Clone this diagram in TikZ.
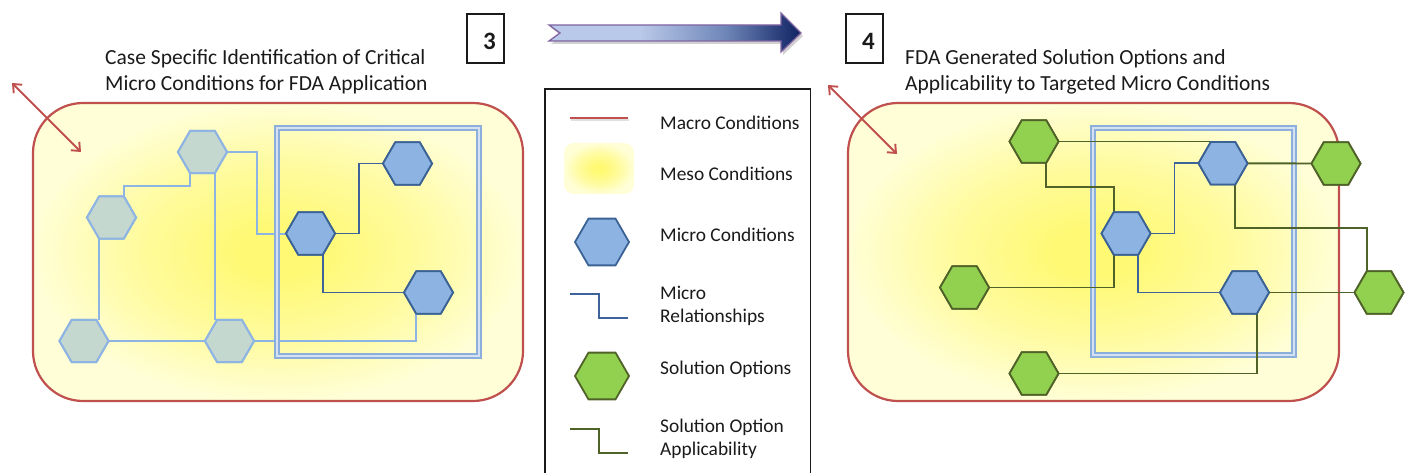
\documentclass[tikz,border=0pt]{standalone}
\usepackage{fontspec}
\setmainfont{Carlito}
\usetikzlibrary{arrows.meta,shapes.geometric,calc}

\definecolor{macroRed}{HTML}{C0504D}
\definecolor{mesoC}{HTML}{FFF974}
\definecolor{mesoM}{HTML}{FFFB9C}
\definecolor{mesoE}{HTML}{FFFED6}
\definecolor{microFill}{HTML}{8DB3E2}
\definecolor{microDraw}{HTML}{3B6294}
\definecolor{relColor}{HTML}{3D639A}
\definecolor{fadeFill}{HTML}{C4D8CF}
\definecolor{fadeDraw}{HTML}{8DB4E2}
\definecolor{solFill}{HTML}{92D050}
\definecolor{solDraw}{HTML}{4F6228}
\definecolor{frameBlue}{HTML}{8BAEDB}
\definecolor{frameLight}{HTML}{D3E1F3}
\definecolor{arrL}{HTML}{B9C9E9}
\definecolor{arrM}{HTML}{6F86B8}
\definecolor{arrD}{HTML}{0E2262}
\definecolor{arrEdge}{HTML}{8064A2}
\definecolor{inkColor}{HTML}{1A1A1A}

\pgfdeclarehorizontalshading{arrowshade}{100bp}{color(0bp)=(arrL); color(25bp)=(arrL); color(43bp)=(arrL); color(60bp)=(arrM); color(75bp)=(arrD); color(100bp)=(arrD)}
\pgfdeclareradialshading{mesoshade}{\pgfpoint{0bp}{0bp}}{color(0bp)=(mesoC); color(4bp)=(mesoC); color(14bp)=(mesoM); color(25bp)=(mesoE); color(50bp)=(mesoE)}

\tikzset{
  hexbase/.style={regular polygon, regular polygon sides=6, minimum size=49pt, inner sep=0pt, outer sep=0pt, line width=1.8pt},
  hexMicro/.style={hexbase, fill=microFill, draw=microDraw},
  hexFaded/.style={hexbase, fill=fadeFill, draw=fadeDraw, line width=2pt},
  hexSol/.style={hexbase, fill=solFill, draw=solDraw},
  macroBox/.style={draw=macroRed, line width=2.2pt, rounded corners=50pt, shading=mesoshade},
  focusFrame/.style={draw=frameBlue, line width=2pt, double=frameLight, double distance=1.4pt},
  relWire/.style={draw=relColor, line width=1.7pt},
  fadedWire/.style={draw=fadeDraw, line width=2pt},
  solWire/.style={draw=solDraw, line width=1.9pt},
  macroArrow/.style={draw=macroRed, line width=1.9pt, {Straight Barb[length=7pt,width=12pt]}-{Straight Barb[length=7pt,width=12pt]}},
  caption/.style={anchor=west, align=left, inner sep=0pt, text=inkColor, font=\fontsize{21.5}{26}\selectfont},
  legendText/.style={anchor=west, align=left, inner sep=0pt, text=inkColor, font=\fontsize{19.4}{23}\selectfont},
  numBox/.style={draw=inkColor, line width=1.4pt, minimum width=37pt, minimum height=49pt, inner sep=0pt},
  numText/.style={inner sep=0pt, text=inkColor, font=\fontsize{25}{25}\selectfont\bfseries}
}

\begin{document}
\begin{tikzpicture}[x=1pt,y=-1pt]
\useasboundingbox (0,0) rectangle (1407,473);

% ---------- top arrow and numbers ----------
\path[fill=black!18] (551,28) -- (783,28) -- (783,16) -- (803,36) -- (783,55) -- (783,44) -- (551,44) -- (562,36) -- cycle;
\path[shading=arrowshade, draw=arrEdge, line width=1.3pt]
  (549,25) -- (781,25) -- (781,13) -- (801,33) -- (781,52) -- (781,41) -- (549,41) -- (560,33) -- cycle;
\node[numBox] (n3) at (485.5,38.5) {};
\node[numText] at ($(n3.center)+(4,2.5)$) {3};
\node[numBox] (n4) at (864.5,38.5) {};
\node[numText] at ($(n4.center)+(4,2.5)$) {4};

% ---------- captions ----------
\node[caption] (capL) at (105,72) {Case Specific Identification of Critical\\Micro Conditions for FDA Application};
\node[caption] (capR) at (905,72) {FDA Generated Solution Options and\\Applicability to Targeted Micro Conditions};

% ---------- left panel ----------
\path[macroBox] (33,103) rectangle (523,401);
\coordinate (la1) at (12,83);
\coordinate (la2) at (81,152);
\draw[macroArrow] (la1) -- (la2);

\node[hexFaded] (A) at (202.5,152) {};
\node[hexFaded] (B) at (111.5,217.5) {};
\node[hexFaded] (C) at (84,341) {};
\node[hexFaded] (D) at (229.5,341) {};
\node[hexMicro] (E) at (310.5,233.5) {};
\node[hexMicro] (F) at (407.5,163.5) {};
\node[hexMicro] (G) at (428.5,292.5) {};

\draw[fadedWire] (A.east) -- ++(30,0) |- (E.west);
\draw[fadedWire] (A.-120) -- ++(0,12.5) -| (B.60);
\draw[fadedWire] (A.-60) -- (A.-60 |- D.north);
\draw[fadedWire] (B.-120) -- (B.-120 |- C.north);
\draw[fadedWire] (C.east) -- (D.west);
\draw[fadedWire] (D.east) -| (G.-120);
\draw[relWire] (E.east) -- ++(24,0) |- (F.west);
\draw[relWire] (E.-60) |- (G.west);
\draw[focusFrame] (277,128) rectangle (479,356);

\node[hexFaded] at (A) {};
\node[hexFaded] at (B) {};
\node[hexFaded] at (C) {};
\node[hexFaded] at (D) {};
\node[hexMicro] at (E) {};
\node[hexMicro] at (F) {};
\node[hexMicro] at (G) {};

% ---------- right panel ----------
\path[macroBox] (848,103) rectangle (1339,401);
\coordinate (ra1) at (828,85);
\coordinate (ra2) at (897,154);
\draw[macroArrow] (ra1) -- (ra2);

\draw[focusFrame] (1093,128) rectangle (1294,355);

\node[hexSol] (H1) at (1034,141.5) {};
\node[hexSol] (H2) at (964.5,287.5) {};
\node[hexSol] (H3) at (1034,373.5) {};
\node[hexMicro] (rE) at (1126,233.5) {};
\node[hexMicro] (rF) at (1223,163.3) {};
\node[hexMicro] (rG) at (1244.5,292.5) {};
\node[hexSol] (H4) at (1336,163.5) {};
\node[hexSol] (H5) at (1379,292.5) {};

\draw[relWire] (rE.east) -- ++(24,0) |- (rF.west);
\draw[relWire] (rE.-60) |- (rG.west);
\draw[solWire] (H1.east) -- (H1.east -| rF.120);
\draw[solWire] (H1.-60) -- ++(0,24.6) -| (rE.120);
\draw[solWire] (H2.east) -| (rE.-120);
\draw[solWire] (H3.east) -| (rG.-60);
\draw[solWire] (rF.east) -- (H4.west);
\draw[solWire] (rF.-60) -- ++(0,43.5) -| (H5.120);
\draw[solWire] (rG.east) -- (H5.west);

\node[hexSol] at (H1) {};
\node[hexSol] at (H2) {};
\node[hexSol] at (H3) {};
\node[hexMicro] at (rE) {};
\node[hexMicro] at (rF) {};
\node[hexMicro] at (rG) {};
\node[hexSol] at (H4) {};
\node[hexSol] at (H5) {};

% ---------- legend ----------
\draw[draw=inkColor, line width=1.4pt] (545,474) -- (545,89) -- (810.5,89) -- (810.5,474);
\draw[draw=black!12, line width=2.5pt] (571,120) -- (629,120);
\draw[draw=macroRed, line width=2.5pt] (570,118) -- (628,118);
\path[shading=mesoshade, rounded corners=10pt] (564,143) rectangle (634,194);
\node[hexMicro, minimum size=54pt] (lgMicro) at (602,242) {};
\draw[relWire] (570,294) -- (599,294) -- (599,318) -- (628,318);
\node[hexSol, minimum size=54pt] (lgSol) at (602,376) {};
\draw[solWire] (570,429) -- (599,429) -- (599,453) -- (628,453);

\node[legendText] at (660,123) {Macro Conditions};
\node[legendText] at (660,174) {Meso Conditions};
\node[legendText] at (660,235) {Micro Conditions};
\node[legendText] at (660,305.5) {Micro\\Relationships};
\node[legendText] at (660,369) {Solution Options};
\node[legendText] at (660,438.5) {Solution Option\\Applicability};
\end{tikzpicture}
\end{document}
